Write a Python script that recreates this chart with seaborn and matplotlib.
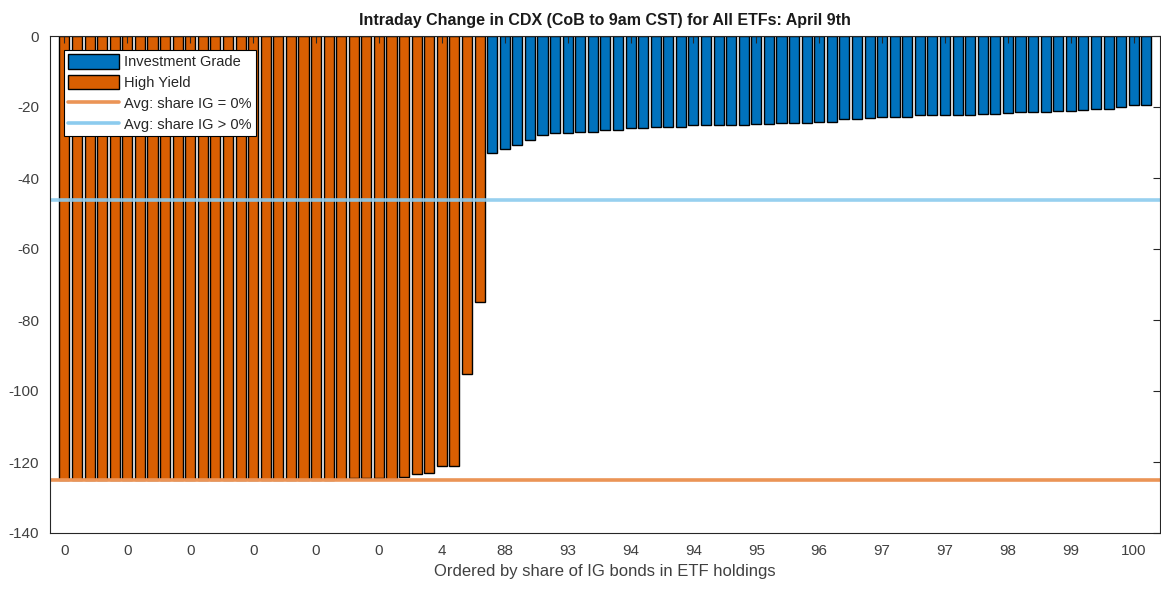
import numpy as np
import pandas as pd
import matplotlib
matplotlib.use("Agg")
import matplotlib.pyplot as plt
import seaborn as sns
from matplotlib.patches import Patch
from matplotlib.lines import Line2D

# ---- data ----
hy_values = [-125.0, -125.0, -125.0, -125.0, -125.0, -125.0, -125.0, -125.0,
             -125.0, -125.0, -125.0, -125.0, -125.0, -125.0, -125.0, -125.0,
             -125.0, -125.0, -125.0, -125.0, -125.0, -125.0, -124.9, -124.6,
             -124.6, -124.6, -124.7, -124.3, -123.5, -123.2, -121.0, -121.0,
             -95.2, -75.0]
ig_values = [-33.0, -31.7, -30.7, -29.3, -27.8, -27.4, -27.4, -27.1, -27.1,
             -26.6, -26.6, -26.0, -26.0, -25.5, -25.5, -25.5, -25.1, -25.1,
             -25.1, -25.1, -25.1, -24.8, -24.8, -24.4, -24.4, -24.4, -24.2,
             -24.3, -23.4, -23.4, -23.1, -22.7, -22.7, -22.7, -22.3, -22.3,
             -22.3, -22.3, -22.3, -21.9, -21.9, -21.6, -21.3, -21.3, -21.3,
             -21.0, -21.0, -20.8, -20.6, -20.6, -19.9, -19.5, -19.5]
avg_share_ig_zero = -125.1
avg_share_ig_pos = -46.1
tick_labels = ["0", "0", "0", "0", "0", "0", "4", "88", "93", "94", "94",
               "95", "96", "97", "97", "98", "99", "100"]
group_names = ["Investment Grade", "High Yield"]

values = hy_values + ig_values
groups = [group_names[1]] * len(hy_values) + [group_names[0]] * len(ig_values)
df = pd.DataFrame({"rank": np.arange(len(values)), "change": values, "group": groups})

c_ig = "#0072BD"
c_hy = "#D95F02"
c_line_hy = "#EB9456"
c_line_ig = "#8CCBEE"

sns.set_style("white")
plt.rcParams["font.family"] = ["Liberation Sans", "DejaVu Sans"]
plt.rcParams["axes.unicode_minus"] = False

fig = plt.figure(figsize=(11.61, 5.89), dpi=100)
ax = fig.add_axes([50 / 1161, 1 - 533 / 589, 1110 / 1161, (533 - 36) / 589])

sns.barplot(data=df, x="rank", y="change", hue="group",
            palette={group_names[0]: c_ig, group_names[1]: c_hy},
            dodge=False, width=0.8, edgecolor="black", linewidth=1.0,
            saturation=1, legend=False, ax=ax)

ax.axhline(avg_share_ig_zero, color=c_line_hy, lw=2.6, zorder=5)
ax.axhline(avg_share_ig_pos, color=c_line_ig, lw=2.6, alpha=0.9, zorder=5)

ax.set_ylim(-140, 0)
ax.set_yticks(np.arange(-140, 1, 20))
ax.set_xlim(-1.15, 87.09)
ax.set_xticks(np.arange(0, len(values), 5))
ax.set_xticklabels(tick_labels)
ax.set_axisbelow(False)

for s in ax.spines.values():
    s.set_visible(True)
    s.set_color("#262626")
    s.set_linewidth(0.8)
    s.set_zorder(6)
ax.tick_params(direction="in", length=5, width=0.8, color="#262626",
               top=True, right=True, labelsize=11, labelcolor="#404040", pad=8)

ax.set_xlabel("Ordered by share of IG bonds in ETF holdings", fontsize=12,
              color="#404040", labelpad=4)
ax.set_ylabel("")
ax.set_title("Intraday Change in CDX (CoB to 9am CST) for All ETFs: April 9th",
             fontsize=11.5, fontweight="bold", color="#1a1a1a", pad=8)

handles = [Patch(facecolor=c_ig, edgecolor="black", linewidth=1.0),
           Patch(facecolor=c_hy, edgecolor="black", linewidth=1.0),
           Line2D([0], [0], color=c_line_hy, lw=2.6),
           Line2D([0], [0], color=c_line_ig, lw=2.6)]
labels = ["Investment Grade", "High Yield", "Avg: share IG = 0%", "Avg: share IG > 0%"]
leg = ax.legend(handles, labels, loc="upper left", bbox_to_anchor=(0.0126, 0.972),
                borderaxespad=0, fontsize=10.5, frameon=True, fancybox=False,
                edgecolor="black", framealpha=1, handlelength=3.5, handleheight=1.15,
                handletextpad=0.3, labelspacing=0.38, borderpad=0.3)
leg.get_frame().set_linewidth(0.8)
leg.set_zorder(10)

fig.savefig("out.png", dpi=100)
